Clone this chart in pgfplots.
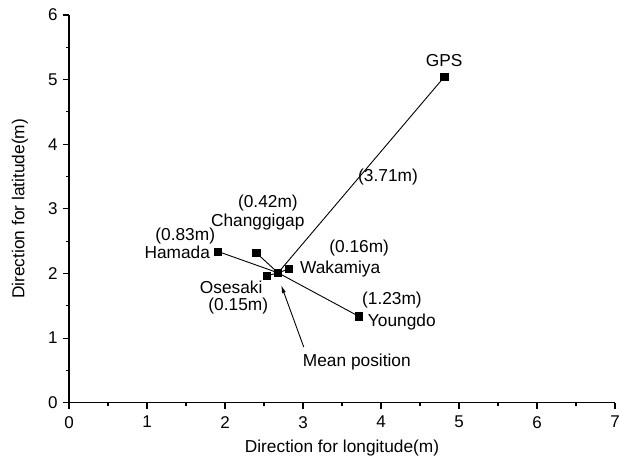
\documentclass[border=0pt]{standalone}
\usepackage{pgfplots}
\pgfplotsset{compat=1.18}
\usepackage{fontspec}
\setmainfont{Liberation Sans}
\usetikzlibrary{arrows.meta}
\newcommand{\lf}{\fontsize{17.3bp}{19bp}\selectfont}
\newcommand{\tf}{\fontsize{17bp}{19bp}\selectfont}
\begin{document}
\begin{tikzpicture}
\begin{axis}[
  scale only axis,
  width=546bp, height=387.7bp,
  xmin=0, xmax=7, ymin=0, ymax=6,
  axis x line*=bottom, axis y line*=left,
  axis line style={line width=1.1bp},
  xtick={0,...,7}, ytick={0,...,6},
  minor x tick num=1, minor y tick num=1,
  tick align=outside,
  major tick length=6bp, minor tick length=3.5bp,
  every tick/.style={black, line width=1.1bp},
  /pgf/number format/assume math mode=true,
  tick label style={font=\tf},
  xticklabel style={yshift=-4bp},
  yticklabel style={xshift=-2bp},
  label style={font=\lf},
  xlabel={Direction for longitude(m)},
  ylabel={Direction for latitude(m)},
  xlabel style={at={(axis description cs:0.5,-0.116)}, anchor=center},
  ylabel style={at={(axis description cs:-0.0897,0.5)}, anchor=center},
  clip=false,
]
% connecting lines from mean position
\addplot[black, line width=0.9bp, no marks] coordinates {(2.68,2.01) (4.81,5.04)};
\addplot[black, line width=0.9bp, no marks] coordinates {(2.68,2.01) (3.71,1.34)};
\addplot[black, line width=0.9bp, no marks] coordinates {(2.68,2.01) (1.91,2.34)};
\addplot[black, line width=0.9bp, no marks] coordinates {(2.68,2.01) (2.40,2.32)};
\addplot[black, line width=0.9bp, no marks] coordinates {(2.68,2.01) (2.82,2.07)};
\addplot[black, line width=0.9bp, no marks] coordinates {(2.68,2.01) (2.53,1.96)};
% points
\addplot[only marks, mark=square*, mark size=3.6bp, black] coordinates {
 (2.68,2.01) (4.81,5.04) (3.71,1.34) (1.91,2.34) (2.40,2.32) (2.82,2.07) (2.53,1.96)};
% labels
\begin{scope}[every node/.style={font=\lf, inner sep=0pt}]
\node at (axis cs:4.81,5.30) {GPS};
\node at (axis cs:4.09,3.49) {(3.71m)};
\node at (axis cs:2.55,3.09) {(0.42m)};
\node at (axis cs:2.42,2.80) {Changgigap};
\node at (axis cs:1.49,2.58) {(0.83m)};
\node[anchor=east] at (axis cs:1.81,2.32) {Hamada};
\node at (axis cs:3.72,2.39) {(0.16m)};
\node[anchor=west] at (axis cs:2.96,2.07) {Wakamiya};
\node at (axis cs:2.08,1.78) {Osesaki};
\node at (axis cs:2.17,1.50) {(0.15m)};
\node at (axis cs:4.14,1.59) {(1.23m)};
\node[anchor=west] at (axis cs:3.83,1.25) {Youngdo};
\node at (axis cs:3.69,0.63) {Mean position};
\end{scope}
\draw[line width=0.9bp, -{Latex[length=8bp,width=4bp]}] (axis cs:3.01,0.86) -- (axis cs:2.72,1.82);
\end{axis}
\pgfresetboundingbox
\path ([shift={(-69bp,-59.3bp)}]current axis.south west) rectangle ([shift={(5bp,15bp)}]current axis.north east);
\end{tikzpicture}
\end{document}
